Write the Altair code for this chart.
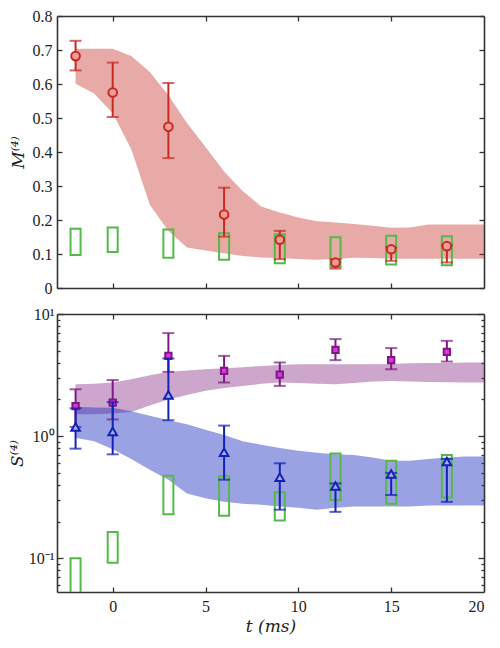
import altair as alt
import pandas as pd

FONT = "Liberation Serif"
TFONT = "DejaVu Serif"
W = 427
H_TOP = 272
H_BOT = 278

# ---------------- data ----------------
t_pts = [-2, 0, 3, 6, 9, 12, 15, 18]

# top panel: M^(4)
m_val = [0.682, 0.575, 0.474, 0.216, 0.142, 0.075, 0.114, 0.123]
m_lo = [0.640, 0.503, 0.382, 0.151, 0.085, 0.057, 0.080, 0.075]
m_hi = [0.727, 0.663, 0.603, 0.295, 0.168, 0.085, 0.119, 0.126]
m_green_lo = [0.097, 0.106, 0.089, 0.083, 0.073, 0.062, 0.069, 0.067]
m_green_hi = [0.174, 0.178, 0.172, 0.161, 0.158, 0.149, 0.154, 0.152]

band_t = [-2, -1, 0, 1, 2, 3, 4, 5, 6, 7, 8, 9, 10, 11, 12, 13, 14, 15, 16, 17, 18, 19, 20]
m_band_hi = [0.704, 0.704, 0.704, 0.682, 0.635, 0.567, 0.485, 0.415, 0.343, 0.285, 0.240, 0.222,
             0.207, 0.196, 0.193, 0.188, 0.183, 0.177, 0.178, 0.187, 0.187, 0.187, 0.187]
m_band_lo = [0.601, 0.572, 0.514, 0.408, 0.245, 0.168, 0.119, 0.110, 0.102, 0.094, 0.090, 0.088,
             0.085, 0.083, 0.085, 0.089, 0.088, 0.086, 0.086, 0.086, 0.086, 0.086, 0.086]

# bottom panel: S^(4)
sq_val = [1.76, 1.88, 4.54, 3.42, 3.19, 5.09, 4.19, 4.90]
sq_lo = [1.19, 1.37, 3.36, 2.75, 2.58, 4.19, 3.53, 4.08]
sq_hi = [2.42, 2.88, 6.98, 4.54, 4.01, 6.23, 5.26, 6.03]

tri_val = [1.19, 1.09, 2.17, 0.74, 0.46, 0.39, 0.49, 0.62]
tri_lo = [0.79, 0.71, 1.35, 0.44, 0.25, 0.24, 0.33, 0.29]
tri_hi = [1.69, 1.90, 4.33, 1.22, 0.60, 0.41, 0.50, 0.65]

s_green_lo = [0.040, 0.092, 0.230, 0.223, 0.204, 0.300, 0.280, 0.315]
s_green_hi = [0.100, 0.164, 0.475, 0.470, 0.347, 0.720, 0.630, 0.700]

p_band_hi = [2.66, 2.69, 2.75, 2.92, 3.15, 3.35, 3.45, 3.53, 3.60, 3.67, 3.75, 3.82,
             3.88, 3.88, 3.88, 3.88, 3.88, 3.90, 3.95, 3.97, 3.98, 4.00, 4.00]
p_band_lo = [1.51, 1.51, 1.53, 1.58, 1.78, 2.00, 2.17, 2.35, 2.48, 2.58, 2.68, 2.75,
             2.72, 2.68, 2.66, 2.72, 2.80, 2.83, 2.80, 2.78, 2.76, 2.75, 2.75]
b_band_hi = [1.74, 1.72, 1.71, 1.60, 1.47, 1.35, 1.25, 1.13, 1.02, 0.91, 0.85, 0.80,
             0.76, 0.73, 0.71, 0.70, 0.67, 0.63, 0.63, 0.65, 0.67, 0.68, 0.68]
b_band_lo = [0.97, 0.91, 0.78, 0.65, 0.53, 0.44, 0.34, 0.31, 0.29, 0.28, 0.275, 0.266,
             0.26, 0.25, 0.26, 0.266, 0.266, 0.266, 0.266, 0.27, 0.27, 0.27, 0.27]

x_ticks = [0, 5, 10, 15]
x_labels = [0, 5, 10, 15, 20]
y_top_ticks = [0, 0.1, 0.2, 0.3, 0.4, 0.5, 0.6, 0.7, 0.8]
y_log_major = [0.1, 1, 10]
y_log_minor = [0.06, 0.07, 0.08, 0.09, 0.2, 0.3, 0.4, 0.5, 0.6, 0.7, 0.8, 0.9,
               2, 3, 4, 5, 6, 7, 8, 9]

# ---------------- tables ----------------
pts = pd.DataFrame({
    "t": t_pts, "m": m_val, "m_lo": m_lo, "m_hi": m_hi,
    "mg_lo": m_green_lo, "mg_hi": m_green_hi,
    "sq": sq_val, "sq_lo": sq_lo, "sq_hi": sq_hi,
    "tri": tri_val, "tri_lo": tri_lo, "tri_hi": tri_hi,
    "sg_lo": s_green_lo, "sg_hi": s_green_hi,
})
band = pd.DataFrame({
    "t": band_t, "m_hi": m_band_hi, "m_lo": m_band_lo,
    "p_hi": p_band_hi, "p_lo": p_band_lo, "b_hi": b_band_hi, "b_lo": b_band_lo,
})

RED = "#c62a20"
RED_FILL = "#f09c98"
GREEN = "#55b94a"
PURPLE = "#7d1a80"
MAGENTA = "#e033e6"
BLUE = "#1222b4"
BLUE_FILL = "#a8aef5"
AXC = "#333333"

xscale = alt.Scale(domain=[-3, 20], nice=False, zero=False)
ytop = alt.Scale(domain=[0, 0.8], nice=False, zero=False)
ybot = alt.Scale(type="log", domain=[0.053, 10], nice=False)

BASE = dict(grid=False, domainColor=AXC, tickColor=AXC, domainWidth=1.6, tickWidth=1.3,
            labelFont=FONT, labelFontSize=16, labelColor="#222222",
            titleColor="#222222", titleFontWeight="normal")


def ax_inward(orient, offset, values, size=5, domain=True):
    return alt.Axis(orient=orient, offset=offset, values=values, labels=False, ticks=True,
                    tickSize=size, domain=domain, title=None, minExtent=0, **BASE)


def x_scaled(field="t:Q", axis=None):
    return alt.X(field, scale=xscale, axis=axis)


# ---------------- top panel ----------------
top_band = alt.Chart(band).mark_area(color=RED, opacity=0.4).encode(
    x=x_scaled("t:Q", ax_inward("top", -H_TOP, x_ticks)),
    y=alt.Y("m_lo:Q", scale=ytop, axis=alt.Axis(
        orient="left", values=y_top_ticks, ticks=False, domain=False, labelPadding=5,
        minExtent=0, labelExpr="datum.value == 0 ? '0' : format(datum.value, '.1f')",
        title="M⁽⁴⁾", titleFont=TFONT, titleFontStyle="italic", titleFontSize=17,
        titlePadding=5, **BASE)),
    y2="m_hi:Q",
)
top_green = alt.Chart(pts).transform_calculate(
    xl="datum.t - 0.27", xr="datum.t + 0.27"
).mark_rect(fillOpacity=0, stroke=GREEN, strokeWidth=2, clip=True).encode(
    x=x_scaled("xl:Q", ax_inward("bottom", -H_TOP, x_ticks)), x2="xr:Q",
    y=alt.Y("mg_lo:Q", scale=ytop, axis=ax_inward("right", -W, y_top_ticks)), y2="mg_hi:Q",
)
top_rule = alt.Chart(pts).mark_rule(color=RED, strokeWidth=2).encode(
    x=x_scaled("t:Q"),
    y=alt.Y("m_lo:Q", scale=ytop, axis=ax_inward("left", -W, y_top_ticks)), y2="m_hi:Q",
)
top_caps = alt.Chart(pts).transform_fold(["m_lo", "m_hi"], as_=["k", "v"]).mark_tick(
    color=RED, orient="horizontal", size=12, thickness=2).encode(
    x=x_scaled("t:Q"), y=alt.Y("v:Q", scale=ytop, axis=None),
)
top_pts = alt.Chart(pts).mark_point(shape="circle", filled=True, fill=RED_FILL, stroke=RED,
                                    strokeWidth=2, size=75, opacity=1).encode(
    x=x_scaled("t:Q"), y=alt.Y("m:Q", scale=ytop, axis=None),
)
top = alt.layer(top_band, top_green, top_rule, top_caps, top_pts).resolve_axis(
    x="independent", y="independent").properties(width=W, height=H_TOP)

# ---------------- bottom panel ----------------
log_label = "datum.value == 10 ? '10¹' : (datum.value == 1 ? '10⁰' : '10⁻¹')"
b_pband = alt.Chart(band).mark_area(color="#802080", opacity=0.4).encode(
    x=x_scaled("t:Q", alt.Axis(orient="bottom", values=x_labels, ticks=False, domain=False,
                               labelPadding=6, minExtent=0, title="t (ms)",
                               titleFont=TFONT,
                               titleFontStyle="italic", titleFontSize=17, titlePadding=4,
                               **BASE)),
    y=alt.Y("p_lo:Q", scale=ybot, axis=alt.Axis(
        orient="left", values=y_log_major, ticks=False, domain=False, labelPadding=3,
        minExtent=0, labelExpr=log_label, title="S⁽⁴⁾", titleFont=TFONT,
        titleFontStyle="italic", titleFontSize=17, titlePadding=2, **BASE)),
    y2="p_hi:Q",
)
b_bband = alt.Chart(band).mark_area(color="#2030c0", opacity=0.45).encode(
    x=x_scaled("t:Q", ax_inward("top", -H_BOT, x_ticks)),
    y=alt.Y("b_lo:Q", scale=ybot, axis=ax_inward("right", -W, y_log_major, 6)),
    y2="b_hi:Q",
)
b_green = alt.Chart(pts).transform_calculate(
    xl="datum.t - 0.27", xr="datum.t + 0.27"
).mark_rect(fillOpacity=0, stroke=GREEN, strokeWidth=2, clip=True).encode(
    x=x_scaled("xl:Q", ax_inward("bottom", -H_BOT, x_ticks)), x2="xr:Q",
    y=alt.Y("sg_lo:Q", scale=ybot, axis=ax_inward("left", -W, y_log_major, 6)), y2="sg_hi:Q",
)
b_prule = alt.Chart(pts).mark_rule(color=PURPLE, strokeWidth=2).encode(
    x=x_scaled("t:Q"),
    y=alt.Y("sq_lo:Q", scale=ybot, axis=ax_inward("right", -W, y_log_minor, 3, False)),
    y2="sq_hi:Q",
)
b_pcaps = alt.Chart(pts).transform_fold(["sq_lo", "sq_hi"], as_=["k", "v"]).mark_tick(
    color=PURPLE, orient="horizontal", size=12, thickness=2).encode(
    x=x_scaled("t:Q"),
    y=alt.Y("v:Q", scale=ybot, axis=ax_inward("left", -W, y_log_minor, 3, False)),
)
b_ppts = alt.Chart(pts).mark_point(shape="square", filled=True, fill=MAGENTA, stroke=PURPLE,
                                   strokeWidth=2, size=40, opacity=1).encode(
    x=x_scaled("t:Q"), y=alt.Y("sq:Q", scale=ybot, axis=None),
)
b_brule = alt.Chart(pts).mark_rule(color=BLUE, strokeWidth=2).encode(
    x=x_scaled("t:Q"), y=alt.Y("tri_lo:Q", scale=ybot, axis=None), y2="tri_hi:Q",
)
b_bcaps = alt.Chart(pts).transform_fold(["tri_lo", "tri_hi"], as_=["k", "v"]).mark_tick(
    color=BLUE, orient="horizontal", size=12, thickness=2).encode(
    x=x_scaled("t:Q"), y=alt.Y("v:Q", scale=ybot, axis=None),
)
b_bpts = alt.Chart(pts).mark_point(shape="triangle-up", filled=True, fill=BLUE_FILL, stroke=BLUE,
                                   strokeWidth=2, size=75, opacity=1).encode(
    x=x_scaled("t:Q"), y=alt.Y("tri:Q", scale=ybot, axis=None),
)
bottom = alt.layer(b_pband, b_bband, b_green, b_prule, b_pcaps, b_ppts,
                   b_brule, b_bcaps, b_bpts).resolve_axis(
    x="independent", y="independent").properties(width=W, height=H_BOT)

chart = alt.vconcat(top, bottom, spacing=26, bounds="flush").properties(
    padding={"left": 0, "top": 0, "right": 5, "bottom": 5},
    background="white",
).configure_view(stroke=None)

chart.save("out.html", embed_options={"renderer": "svg", "actions": False})
